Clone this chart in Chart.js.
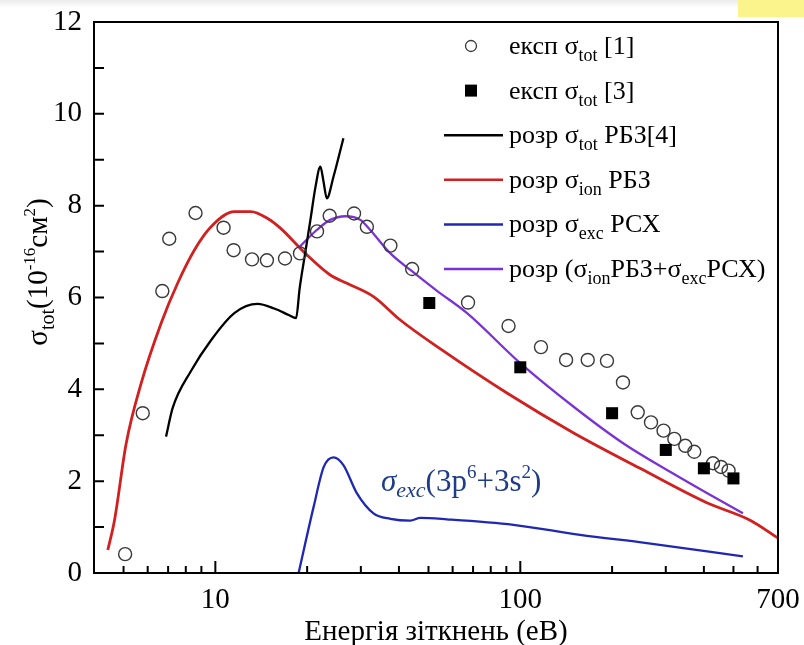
<!DOCTYPE html>
<html>
<head>
<meta charset="utf-8">
<script src="https://cdn.jsdelivr.net/npm/chart.js@4.4.1/dist/chart.umd.min.js"></script>
<style>
  body { margin: 0; background: #fff; }
  #wrap { position: relative; width: 804px; height: 645px; }
  #topbar { position: absolute; left: 0; top: 0; width: 804px; height: 8px; background: linear-gradient(#ececec, #fff); }
  #yellow { position: absolute; left: 738px; top: 0; width: 66px; height: 17px; background: #fbf38c; }
</style>
</head>
<body>
<div id="wrap">
  <div id="topbar"></div>
  <div id="yellow"></div>
  <canvas id="chart" width="804" height="645" style="position:absolute;left:0;top:0"></canvas>
</div>
<script>
// експ σtot [1] (open circles)
const exp1X = [5.06, 5.78, 6.70, 7.06, 8.61, 10.64, 11.48, 13.19, 14.76, 16.92, 18.95, 21.55, 23.71, 28.5, 31.4, 37.5, 44.2, 67.4, 91.5, 116.9, 141.3, 166.4, 192.4, 217.1, 242.7, 268.3, 295, 320, 347.6, 372, 428.5, 455, 482];
const exp1Y = [0.41, 3.48, 6.14, 7.28, 7.84, 7.52, 7.03, 6.83, 6.81, 6.85, 6.96, 7.44, 7.78, 7.83, 7.54, 7.13, 6.62, 5.89, 5.38, 4.92, 4.64, 4.64, 4.62, 4.15, 3.50, 3.28, 3.10, 2.92, 2.77, 2.64, 2.39, 2.31, 2.23];

// експ σtot [3] (filled squares)
const exp3X = [50.3, 100, 200, 300, 400, 500];
const exp3Y = [5.88, 4.48, 3.48, 2.68, 2.28, 2.06];

// розр σtot РБЗ[4] (black)
const totX = [6.89, 7.25, 8.32, 9.68, 11.54, 13.76, 15.6, 17.4, 18.4, 18.9, 19.7, 20.5, 21.3, 22.1, 22.6, 23.2, 24.4, 26.3];
const totY = [2.97, 3.60, 4.40, 5.07, 5.66, 5.86, 5.76, 5.62, 5.55, 6.2, 6.96, 7.69, 8.41, 8.85, 8.55, 8.16, 8.63, 9.47];

// розр σion РБЗ (red)
const ionX = [4.44, 4.67, 5.10, 5.71, 6.64, 7.52, 8.53, 9.68, 11.54, 13.09, 14.84, 16.34, 19.72, 23.8, 27.0, 33.0, 40.4, 54.7, 90.4, 149.6, 247, 409, 567, 700];
const ionY = [0.50, 1.15, 2.82, 4.13, 5.44, 6.31, 7.03, 7.54, 7.87, 7.87, 7.72, 7.51, 6.96, 6.49, 6.31, 6.02, 5.51, 4.88, 3.92, 3.05, 2.28, 1.53, 1.15, 0.76];

// розр σexc РСХ (blue)
const excX = [18.75, 21.0, 22.67, 24.4, 26.3, 29.1, 33.0, 37.5, 43.6, 47.0, 57.4, 95.0, 157, 260, 537];
const excY = [0, 1.44, 2.31, 2.52, 2.35, 1.74, 1.30, 1.18, 1.14, 1.20, 1.17, 1.05, 0.83, 0.65, 0.36];

// розр (σion РБЗ + σexc РСХ) (purple)
const sumX = [18.75, 21.5, 23.8, 26.7, 29.9, 32.2, 37.5, 43.6, 53.2, 66.9, 100, 149.6, 218, 316, 409, 537];
const sumY = [7.08, 7.47, 7.69, 7.77, 7.69, 7.47, 6.96, 6.60, 6.15, 5.66, 4.57, 3.62, 2.82, 2.17, 1.74, 1.30];

const xTickValues = [5, 6, 7, 8, 9, 10, 20, 30, 40, 50, 60, 70, 80, 90, 100, 200, 300, 400, 500, 600, 700];
const xTickLabels = ['10', '100', '700'];
const xMajorTicks = [10, 100];

const FONT = '"Liberation Serif", "DejaVu Serif", serif';
const pts = (xs, ys) => xs.map((x, i) => ({ x: x, y: ys[i] }));

const RED = '#d21f1f', BLUE = '#1f27b3', PURPLE = '#7a32d6', NAVY = '#1f3c8a';

// text made of runs: [text, size, dy, italic]
function drawRuns(ctx, runs, x, y, color) {
    ctx.fillStyle = color || '#000';
    ctx.textBaseline = 'alphabetic';
    ctx.textAlign = 'left';
    let cx = x;
    for (const r of runs) {
        ctx.font = (r[3] ? 'italic ' : '') + r[1] + 'px ' + FONT;
        ctx.fillText(r[0], cx, y + (r[2] || 0));
        cx += ctx.measureText(r[0]).width;
    }
    return cx;
}
function runsWidth(ctx, runs) {
    let w = 0;
    for (const r of runs) {
        ctx.font = (r[3] ? 'italic ' : '') + r[1] + 'px ' + FONT;
        w += ctx.measureText(r[0]).width;
    }
    return w;
}

const L = 26, S = 18;
const legendItems = [
    { kind: 'circle', runs: [['експ σ', L], ['tot', S, 7], [' [1]', L]] },
    { kind: 'square', runs: [['експ σ', L], ['tot', S, 7], [' [3]', L]] },
    { kind: 'line', color: '#000', runs: [['розр σ', L], ['tot', S, 7], [' РБЗ[4]', L]] },
    { kind: 'line', color: RED, runs: [['розр σ', L], ['ion', S, 7], [' РБЗ', L]] },
    { kind: 'line', color: BLUE, runs: [['розр σ', L], ['exc', S, 7], [' РСХ', L]] },
    { kind: 'line', color: PURPLE, runs: [['розр (σ', L], ['ion', S, 7], ['РБЗ+σ', L], ['exc', S, 7], ['РСХ)', L]] }
];

const decor = {
    id: 'decor',
    afterDraw(chart) {
        const ctx = chart.ctx, a = chart.chartArea;
        const xs = chart.scales.x, ys = chart.scales.y;
        ctx.save();
        // frame
        ctx.strokeStyle = '#000';
        ctx.lineWidth = 2;
        ctx.strokeRect(a.left, a.top, a.right - a.left, a.bottom - a.top);
        // inward ticks
        ctx.beginPath();
        for (let v = 1; v < 12; v++) {
            const py = ys.getPixelForValue(v);
            ctx.moveTo(a.left, py); ctx.lineTo(a.left + 10, py);
        }
        for (const v of xTickValues) {
            if (v >= 700) continue;
            const px = xs.getPixelForValue(v);
            const len = xMajorTicks.includes(v) ? 12 : 7;
            ctx.moveTo(px, a.bottom); ctx.lineTo(px, a.bottom - len);
        }
        ctx.stroke();

        // x title
        ctx.font = '29px ' + FONT;
        ctx.fillStyle = '#000';
        ctx.textAlign = 'center';
        ctx.textBaseline = 'alphabetic';
        ctx.fillText('Енергія зіткнень (еВ)', (a.left + a.right) / 2, 640);

        // y title
        const yRuns = [['σ', 29], ['tot', 20, 7], ['(10', 29], ['-16', 17, -12], ['см', 29], ['2', 17, -12], [')', 29]];
        ctx.save();
        ctx.translate(37, 272);
        ctx.rotate(-Math.PI / 2);
        drawRuns(ctx, yRuns, -runsWidth(ctx, yRuns) / 2, 10, '#000');
        ctx.restore();

        // legend
        const lineX0 = 444, lineX1 = 503, textX = 509;
        legendItems.forEach((it, i) => {
            const ry = 46 + i * 44.6;
            if (it.kind === 'line') {
                ctx.strokeStyle = it.color;
                ctx.lineWidth = 2.5;
                ctx.beginPath(); ctx.moveTo(lineX0, ry); ctx.lineTo(lineX1, ry); ctx.stroke();
            } else if (it.kind === 'circle') {
                ctx.strokeStyle = '#3a3a3a';
                ctx.lineWidth = 1.3;
                ctx.beginPath(); ctx.arc(471, ry, 5.5, 0, Math.PI * 2); ctx.stroke();
            } else {
                ctx.fillStyle = '#000';
                ctx.fillRect(471 - 6, ry - 6, 12, 12);
            }
            drawRuns(ctx, it.runs, textX, ry + 8, '#000');
        });

        // annotation
        const ann = [['σ', 31, 0, true], ['exc', 22, 6, true], ['(3p', 31], ['6', 19, -13], ['+3s', 31], ['2', 19, -13], [')', 31]];
        drawRuns(ctx, ann, 381, 491, NAVY);
        ctx.restore();
    }
};

new Chart(document.getElementById('chart'), {
    type: 'scatter',
    data: {
        datasets: [
            { label: 'експ σtot [1]', data: pts(exp1X, exp1Y), showLine: false, pointStyle: 'circle', pointRadius: 6.5,
              borderColor: '#3a3a3a', backgroundColor: 'rgba(0,0,0,0)', borderWidth: 1.4, order: 1 },
            { label: 'експ σtot [3]', data: pts(exp3X, exp3Y), showLine: false, pointStyle: 'rect', pointRadius: 8.5,
              borderColor: '#000', backgroundColor: '#000', borderWidth: 0, order: 0 },
            { label: 'розр σtot РБЗ[4]', data: pts(totX, totY), showLine: true, pointRadius: 0, borderColor: '#000',
              borderWidth: 2.3, cubicInterpolationMode: 'monotone', order: 2 },
            { label: 'розр σion РБЗ', data: pts(ionX, ionY), showLine: true, pointRadius: 0, borderColor: RED,
              borderWidth: 2.8, cubicInterpolationMode: 'monotone', order: 3 },
            { label: 'розр σexc РСХ', data: pts(excX, excY), showLine: true, pointRadius: 0, borderColor: BLUE,
              borderWidth: 2.3, cubicInterpolationMode: 'monotone', order: 4 },
            { label: 'розр (σionРБЗ+σexcРСХ)', data: pts(sumX, sumY), showLine: true, pointRadius: 0, borderColor: PURPLE,
              borderWidth: 2.3, cubicInterpolationMode: 'monotone', order: 2 }
        ]
    },
    options: {
        responsive: false,
        animation: false,
        layout: { padding: { top: 22, right: 26, left: 0, bottom: 0 } },
        plugins: { legend: { display: false }, tooltip: { enabled: false } },
        scales: {
            x: {
                type: 'logarithmic', min: 4, max: 700,
                grid: { display: false, drawTicks: false },
                border: { display: false },
                afterBuildTicks: s => { s.ticks = xTickValues.map(v => ({ value: v })); },
                afterFit: s => { s.height = 72; s.paddingLeft = 0; s.paddingRight = 0; },
                ticks: {
                    autoSkip: false, maxRotation: 0, padding: 10, color: '#000',
                    font: { family: FONT, size: 29 },
                    callback: v => xTickLabels.includes(String(v)) ? String(v) : ''
                }
            },
            y: {
                min: 0, max: 12,
                grid: { display: false, drawTicks: false },
                border: { display: false },
                afterFit: s => { s.width = 94; s.paddingTop = 0; s.paddingBottom = 0; },
                ticks: {
                    stepSize: 1, padding: 12, color: '#000',
                    font: { family: FONT, size: 29 },
                    callback: v => v % 2 === 0 ? String(v) : ''
                }
            }
        }
    },
    plugins: [decor]
});
</script>
</body>
</html>
